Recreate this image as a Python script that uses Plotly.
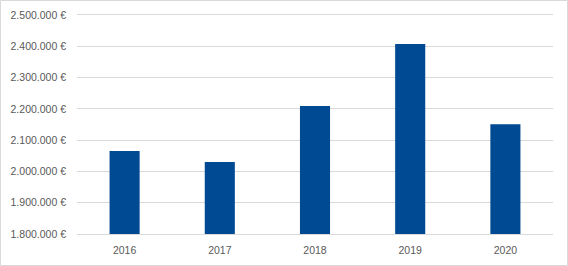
import plotly.graph_objects as go

years = ["2016", "2017", "2018", "2019", "2020"]
values = [2065000, 2030000, 2209000, 2407000, 2151000]

W, H = 568, 266
ml, mr, mt, mb = 77, 15, 15, 32

fig = go.Figure(go.Bar(x=years, y=values, marker_color="#004A93", marker_line_width=0))

pw = W - ml - mr
ph = H - mt - mb
fig.update_layout(
    width=W, height=H,
    margin=dict(l=ml, r=mr, t=mt, b=mb),
    paper_bgcolor="white", plot_bgcolor="white",
    bargap=0.684,
    separators=",.",
    showlegend=False,
    font=dict(family="Liberation Sans, Arial, sans-serif", size=10, color="#595959"),
    xaxis=dict(showline=True, mirror=True, linecolor="#d9d9d9", linewidth=1, showgrid=False,
               automargin=False,
               ticks="", ticklabelstandoff=6, tickfont=dict(size=10.5, color="#595959")),
    yaxis=dict(range=[1800000, 2500000], dtick=100000, tick0=1800000,
               automargin=False,
               tickformat=",.0f", ticksuffix=" €",
               showgrid=True, gridcolor="#d9d9d9", gridwidth=1,
               zeroline=False, showline=False, ticks="",
               ticklabelstandoff=10,
               tickfont=dict(size=10.5, color="#595959")),
    shapes=[dict(type="rect", xref="paper", yref="paper",
                 x0=-(ml - 0.5) / pw, x1=1 + (mr - 0.5) / pw,
                 y0=-(mb - 0.5) / ph, y1=1 + (mt - 0.5) / ph,
                 line=dict(color="#d9d9d9", width=1), layer="below")],
)

fig.write_html("out.html")
